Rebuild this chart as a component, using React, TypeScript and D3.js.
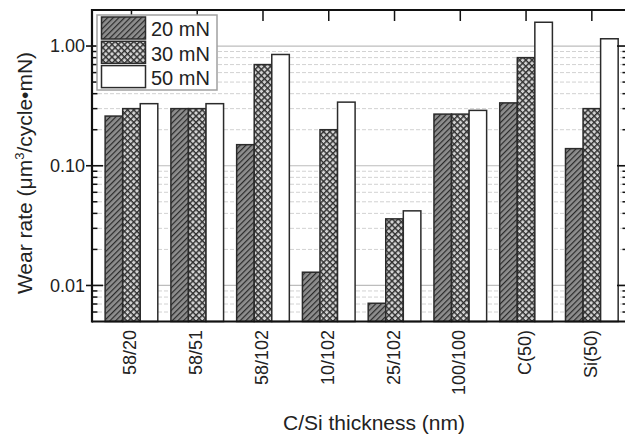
import React from "react";
import * as d3 from "d3";

const categories = ["58/20", "58/51", "58/102", "10/102", "25/102", "100/100", "C(50)", "Si(50)"];
const seriesNames = ["20 mN", "30 mN", "50 mN"];
const values20 = [0.26, 0.30, 0.15, 0.0129, 0.0071, 0.27, 0.335, 0.139];
const values30 = [0.30, 0.30, 0.70, 0.20, 0.036, 0.27, 0.80, 0.30];
const values50 = [0.33, 0.33, 0.85, 0.34, 0.042, 0.29, 1.58, 1.15];
const majorTicks = [1, 0.1, 0.01];
const majorLabels = ["1.00", "0.10", "0.01"];

const W = 625;
const H = 435;
const left = 92;
const right = 628;
const top = 10;
const bottom = 321.5;
const FONT = "'Liberation Sans', Arial, sans-serif";

export default function App() {
  const x = d3.scaleLinear().domain([0.4, 8.55]).range([left, right]);
  const y = d3.scaleLog().domain([0.005, 2]).range([bottom, top]);
  const step = x(1) - x(0);
  const bw = step * 0.267;
  const series = [values20, values30, values50];
  const fills = ["url(#hatch)", "url(#cross)", "#ffffff"];

  const minorVals: number[] = [];
  [0.001, 0.01, 0.1, 1].forEach((dec) => {
    for (let k = 2; k <= 9; k++) {
      const v = dec * k;
      if (v > 0.005 && v < 2) minorVals.push(v);
    }
  });

  return (
    <svg
      width={W}
      height={H}
      style={{ position: "absolute", left: 0, top: 0, background: "#fff" }}
      fontFamily={FONT}
    >
      <defs>
        <pattern id="hatch" patternUnits="userSpaceOnUse" width={4} height={4} patternTransform="rotate(45)">
          <rect width={4} height={4} fill="#8e8e8e" />
          <line x1={0.6} y1={0} x2={0.6} y2={4} stroke="#2a2a2a" strokeWidth={1.2} />
        </pattern>
        <pattern id="cross" patternUnits="userSpaceOnUse" width={4.4} height={4.4} patternTransform="rotate(45)">
          <rect width={4.4} height={4.4} fill="#d2d2d2" />
          <line x1={0.7} y1={0} x2={0.7} y2={4.4} stroke="#303030" strokeWidth={1.4} />
          <line x1={0} y1={0.7} x2={4.4} y2={0.7} stroke="#303030" strokeWidth={1.4} />
        </pattern>
      </defs>

      {/* grid */}
      {minorVals.map((v, i) => (
        <line key={"mg" + i} x1={left} x2={right} y1={y(v)} y2={y(v)} stroke="#d2d2d2" strokeWidth={1} strokeDasharray="4,2" />
      ))}
      {majorTicks.map((v, i) => (
        <line key={"Mg" + i} x1={left} x2={right} y1={y(v)} y2={y(v)} stroke="#bdbdbd" strokeWidth={1.2} />
      ))}

      {/* bottom ticks (inward) */}
      {categories.map((c, i) => (
        <line key={"bt" + i} x1={x(i + 1)} x2={x(i + 1)} y1={bottom} y2={bottom - 8} stroke="#111" strokeWidth={1.5} />
      ))}

      {/* bars */}
      {categories.map((c, i) => (
        <g key={"g" + i}>
          {series.map((s, j) => {
            const x0 = x(i + 1) - 1.5 * bw + j * bw;
            const yt = y(s[i]);
            return (
              <rect
                key={j}
                x={x0}
                y={yt}
                width={bw}
                height={bottom - yt}
                fill={fills[j]}
                stroke="#2b2b2b"
                strokeWidth={1.5}
              />
            );
          })}
        </g>
      ))}

      {/* axes frame */}
      <line x1={left} x2={right + 2} y1={top} y2={top} stroke="#111" strokeWidth={2.2} />
      <line x1={left} x2={right + 2} y1={bottom} y2={bottom} stroke="#111" strokeWidth={2.2} />
      <line x1={left} x2={left} y1={top - 1} y2={bottom + 1} stroke="#111" strokeWidth={2.2} />
      <line x1={right} x2={right} y1={top - 1} y2={bottom + 1} stroke="#111" strokeWidth={2.2} />

      {/* top ticks */}
      {categories.map((c, i) => (
        <line key={"tt" + i} x1={x(i + 1)} x2={x(i + 1)} y1={top} y2={top + 11} stroke="#111" strokeWidth={1.5} />
      ))}

      {/* left / right ticks */}
      {majorTicks.map((v, i) => (
        <g key={"mt" + i}>
          <line x1={left - 6} x2={left + 11} y1={y(v)} y2={y(v)} stroke="#111" strokeWidth={1.6} />
          <line x1={right - 11} x2={right} y1={y(v)} y2={y(v)} stroke="#111" strokeWidth={1.6} />
          <text x={85} y={y(v) + 6.3} textAnchor="end" fontSize={18} fill="#222">
            {majorLabels[i]}
          </text>
        </g>
      ))}
      {minorVals.map((v, i) => (
        <g key={"nt" + i}>
          <line x1={left} x2={left + 5.5} y1={y(v)} y2={y(v)} stroke="#111" strokeWidth={1.5} />
          <line x1={right - 5.5} x2={right} y1={y(v)} y2={y(v)} stroke="#111" strokeWidth={1.5} />
        </g>
      ))}

      {/* x tick labels */}
      {categories.map((c, i) => (
        <text
          key={"xl" + i}
          transform={`translate(${x(i + 1) + 5},330) rotate(-90)`}
          textAnchor="end"
          fontSize={18}
          fill="#222"
        >
          {c}
        </text>
      ))}

      {/* axis titles */}
      <text x={374} y={430} textAnchor="middle" fontSize={21} fill="#222">
        C/Si thickness (nm)
      </text>
      <text transform="translate(32,173) rotate(-90)" textAnchor="middle" fontSize={21} fill="#222">
        Wear rate (μm
        <tspan dy={-8} fontSize={13}>3</tspan>
        <tspan dy={8}>/cycle•mN)</tspan>
      </text>

      {/* legend */}
      <rect x={97} y={15} width={120} height={75} fill="#fff" stroke="#a0a0a0" strokeWidth={1.5} />
      {seriesNames.map((n, j) => {
        const ry = 17 + j * 24.3;
        return (
          <g key={"lg" + j}>
            <rect x={101.5} y={ry} width={44} height={22} fill={fills[j]} stroke="#2b2b2b" strokeWidth={1.5} />
            <text x={151} y={ry + 19.3} fontSize={20} fill="#222">
              {n}
            </text>
          </g>
        );
      })}
    </svg>
  );
}
